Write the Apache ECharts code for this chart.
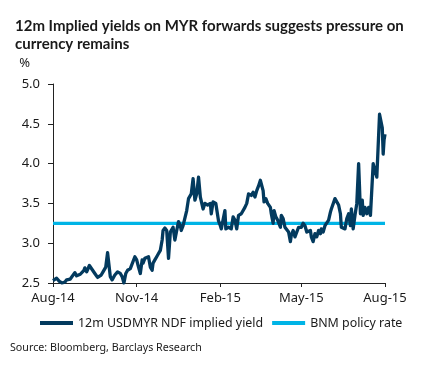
<!DOCTYPE html>
<html>
<head>
<meta charset="utf-8">
<script src="https://cdn.jsdelivr.net/npm/echarts@6/dist/echarts.min.js"></script>
<style>
html,body{margin:0;padding:0;background:#fff;}
#c{width:423px;height:366px;}
</style>
</head>
<body>
<div id="c"></div>
<script>
// Days since 1 Aug 2014 for each reading of the 12m USDMYR NDF implied yield
const START_DATE = '2014-08-01';
const ndfDays = [0,2,4,7,10,13,15,19,21,24,26,30,32,34,35,37,40,41,43,46,49,53,55,58,60,63,65,68,71,74,76,78,80,82,85,87,90,92,94,96,98,99,101,103,105,107,109,110,112,114,116,118,120,121,123,125,127,129,131,132,134,136,138,140,141,143,145,147,149,151,152,154,156,158,160,161,162,165,167,170,173,174,176,179,182,184,185,187,189,190,193,196,198,200,202,204,206,207,209,211,213,215,217,218,220,222,224,226,228,229,231,232,234,236,239,240,242,243,245,247,250,251,253,255,257,259,261,262,264,266,268,270,272,273,275,277,279,281,283,284,286,288,290,292,294,295,297,299,301,303,305,306,308,310,312,314,316,317,319,321,323,325,327,328,330,332,334,336,337,338,340,341,343,345,347,349,350,352,354,356,357,359,360,362,363,364,365];
const ndfYield = [2.53,2.55,2.56,2.52,2.50,2.51,2.54,2.55,2.57,2.63,2.59,2.61,2.60,2.66,2.69,2.64,2.72,2.73,2.67,2.62,2.57,2.60,2.64,2.70,2.88,2.58,2.54,2.60,2.64,2.62,2.58,2.50,2.62,2.66,2.68,2.70,2.83,2.79,2.70,2.62,2.79,2.75,2.81,2.79,2.83,2.70,2.66,2.75,2.79,2.83,2.87,2.91,3.04,3.16,3.19,3.16,2.81,3.14,3.12,3.20,3.04,3.16,3.27,3.22,3.16,3.22,3.20,3.41,3.56,3.58,3.62,3.81,3.54,3.62,3.83,3.85,3.58,3.43,3.50,3.48,3.50,3.37,3.52,3.50,3.28,3.22,3.18,3.20,3.41,3.18,3.20,3.18,3.33,3.29,3.18,3.35,3.33,3.37,3.35,3.45,3.50,3.62,3.64,3.60,3.64,3.58,3.66,3.72,3.79,3.81,3.66,3.52,3.56,3.50,3.45,3.37,3.25,3.41,3.33,3.29,3.20,3.35,3.31,3.20,3.22,3.14,3.02,3.10,3.16,3.08,3.10,3.20,3.20,3.20,3.25,3.22,3.14,3.12,3.16,3.08,3.02,3.12,3.08,3.16,3.12,3.18,3.14,3.22,3.20,3.29,3.39,3.43,3.45,3.56,3.54,3.48,3.37,3.20,3.22,3.18,3.31,3.37,3.22,3.43,3.18,3.35,3.50,4.00,3.70,3.37,3.54,3.35,3.45,3.37,3.45,3.35,3.33,4.00,3.91,3.83,3.81,4.62,4.60,4.45,4.12,4.30,4.37];
// BNM policy rate
const policyDays = [0, 365];
const policyRate = [3.25, 3.25];
// Axis ticks
const xTickDates = ['2014-08-01','2014-11-01','2015-02-01','2015-05-01','2015-08-01'];
const months = ['Jan','Feb','Mar','Apr','May','Jun','Jul','Aug','Sep','Oct','Nov','Dec'];
const yMin = 2.5, yMax = 5.0, yStep = 0.5;

const titleLine1 = '12m Implied yields on MYR forwards suggests pressure on';
const titleLine2 = 'currency remains';

if (ndfDays.length !== ndfYield.length) throw new Error('len mismatch ' + ndfDays.length + ' ' + ndfYield.length);

function utc(s){ const p = s.split('-').map(Number); return Date.UTC(p[0], p[1]-1, p[2]); }
const t0 = utc(START_DATE);
const DAY = 86400000;
const ndfData = ndfDays.map((d,i)=>[t0 + d*DAY, ndfYield[i]]);
const policyData = policyDays.map((d,i)=>[t0 + d*DAY, policyRate[i]]);
const xTicks = xTickDates.map(utc);

const NAVY = '#033a5e';
const CYAN = '#00b4e6';
const FONT = '"Noto Sans", sans-serif';
const TITLE_FONT = 'Lato, "Noto Sans", sans-serif';

// fit title font size so the first line spans ~393px like the reference
const cv = document.createElement('canvas').getContext('2d');
let titleSize = 17;
for (let s = 18; s >= 12; s -= 0.25) {
  cv.font = 'bold ' + s + 'px ' + TITLE_FONT;
  if (cv.measureText(titleLine1).width <= 394) { titleSize = s; break; }
}

const chart = echarts.init(document.getElementById('c'), null, {renderer:'canvas'});
chart.setOption({
  animation:false,
  backgroundColor:'#fff',
  title:{
    text:titleLine1 + '\n' + titleLine2,
    left:10, top:12,
    textStyle:{fontFamily:TITLE_FONT, fontSize:titleSize, fontWeight:'bold', color:'#1a1a1a', lineHeight:18}
  },
  legend:{
    bottom:32, left:35,
    itemWidth:33, itemHeight:4, itemGap:9,
    icon:'rect',
    textStyle:{fontFamily:FONT, fontSize:12.4, color:'#1a1a1a'},
    data:['12m USDMYR NDF implied yield','BNM policy rate']
  },
  graphic:[{
    type:'text', left:10, top:342,
    style:{text:'Source: Bloomberg, Barclays Research', font:'10.7px "Noto Sans", sans-serif', fill:'#1a1a1a'}
  }],
  grid:{left:53, right:38, top:84, bottom:83},
  xAxis:{
    type:'value',
    min:xTicks[0], max:xTicks[xTicks.length-1],
    axisLine:{lineStyle:{color:'#222', width:1}},
    axisTick:{show:true, length:4, lineStyle:{color:'#222'}, customValues:xTicks},
    axisLabel:{
      customValues:xTicks, margin:9,
      fontFamily:FONT, fontSize:13, color:'#1a1a1a',
      formatter:function(v){ const d=new Date(v); return months[d.getUTCMonth()]+'-'+String(d.getUTCFullYear()).slice(2); }
    },
    splitLine:{show:false}
  },
  yAxis:{
    type:'value', min:yMin, max:yMax, interval:yStep,
    name:'%', nameLocation:'end', nameGap:14,
    nameTextStyle:{fontFamily:FONT, fontSize:13, color:'#1a1a1a', align:'right', padding:[0,23,0,0]},
    axisLine:{show:true, lineStyle:{color:'#222', width:1}},
    axisTick:{show:true, inside:false, length:5, lineStyle:{color:'#222'}},
    axisLabel:{fontFamily:FONT, fontSize:13, color:'#1a1a1a', margin:13, formatter:v=>v.toFixed(1)},
    splitLine:{show:false}
  },
  series:[
    {
      name:'12m USDMYR NDF implied yield', type:'line', data:ndfData,
      showSymbol:false, symbol:'none', z:3,
      lineStyle:{color:NAVY, width:3.3, join:'round'}, itemStyle:{color:NAVY}
    },
    {
      name:'BNM policy rate', type:'line', data:policyData,
      showSymbol:false, symbol:'none', z:2,
      lineStyle:{color:CYAN, width:3.3}, itemStyle:{color:CYAN}
    }
  ]
});
</script>
</body>
</html>
